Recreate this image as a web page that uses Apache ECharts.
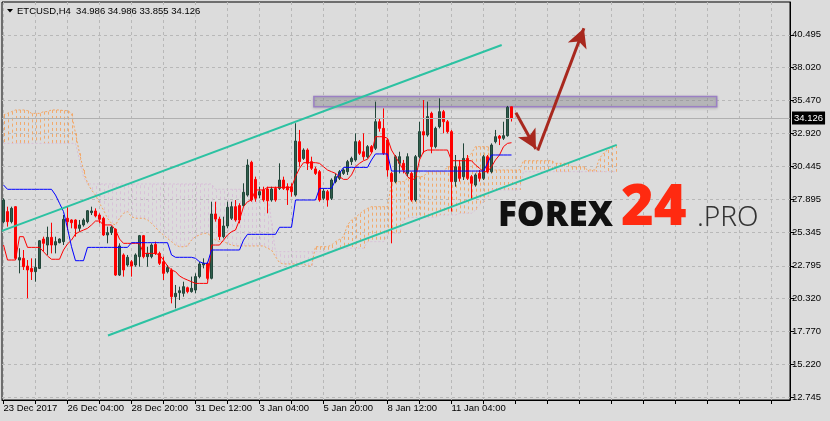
<!DOCTYPE html>
<html><head><meta charset="utf-8">
<script src="https://cdn.jsdelivr.net/npm/echarts@6/dist/echarts.min.js"></script>
<style>html,body{margin:0;padding:0;background:#DCDCDC;}#c{width:830px;height:421px;}</style>
</head><body><div id="c"></div>
<script>
// ---------- DATA ----------
const symbolName = 'ETCUSD,H4';
// H4 candles, bar index 0..127
const opens = [
26.18,26.95,26.18,27.33,23.24,23.37,22.78,22.60,22.35,22.60,
24.85,24.39,24.98,24.39,24.57,24.65,26.44,26.31,26.31,25.67,
25.93,26.18,26.87,27.00,26.69,26.44,25.16,25.34,25.60,22.09,
23.63,22.86,23.11,22.86,23.50,25.11,23.50,23.50,24.44,23.75,
23.11,22.35,22.48,20.43,20.74,20.69,21.12,20.82,20.94,21.97,
22.86,22.99,21.84,26.77,26.38,25.03,25.85,26.44,27.33,27.41,
27.41,28.22,30.73,29.42,28.22,28.61,28.68,27.84,28.73,28.73,
29.37,28.86,28.86,28.22,32.31,31.03,31.67,30.78,30.22,30.01,
27.97,28.48,27.97,29.25,29.50,29.88,30.01,30.78,30.91,32.31,
31.54,31.16,31.93,31.80,33.84,33.33,32.44,29.88,29.25,30.65,
30.65,29.88,29.88,27.84,31.16,33.08,32.82,34.48,31.93,33.46,
34.61,33.84,33.08,29.25,30.39,29.63,31.03,29.63,28.99,29.88,
29.50,31.16,30.01,32.31,32.74,32.57,32.77,34.986];
const closes = [
27.84,26.18,27.20,23.37,23.42,22.73,22.48,22.35,22.68,24.72,
24.52,24.98,24.39,24.65,24.85,26.36,26.18,26.10,25.67,25.93,
26.31,27.02,27.00,26.62,26.36,25.16,25.34,25.75,22.09,24.32,
22.48,23.45,22.78,23.63,25.11,23.50,23.75,24.39,23.75,22.99,
22.22,22.66,20.43,20.69,20.89,21.20,20.82,21.07,21.97,22.94,
22.99,21.84,26.77,26.38,25.03,25.85,27.28,27.33,26.31,26.31,
28.43,30.52,27.84,27.97,28.48,27.84,27.79,28.68,27.84,29.37,
28.73,28.61,28.48,32.36,30.78,31.67,30.65,30.27,29.88,27.84,
28.53,27.84,29.37,29.63,30.01,30.14,30.78,31.03,32.31,31.42,
31.16,31.93,31.54,33.84,33.33,31.42,30.14,29.25,31.16,31.16,
30.14,31.16,27.84,31.16,33.08,32.82,34.23,31.93,33.33,34.61,
33.84,33.08,29.25,30.39,29.50,31.03,29.50,29.12,29.76,29.50,
31.16,30.01,32.05,32.69,32.57,32.77,34.95,34.126];
const lows = [
26.05,25.80,26.05,23.24,22.22,22.48,20.31,21.71,21.58,22.55,
23.88,23.63,23.75,23.75,24.52,24.39,25.54,25.67,25.03,25.41,
25.80,26.05,26.69,26.51,26.05,25.08,24.52,25.16,22.02,22.02,
21.97,22.73,21.97,22.73,22.73,23.37,22.73,23.37,23.63,22.86,
21.71,22.22,19.92,19.54,20.18,20.43,20.69,20.74,20.69,21.84,
22.60,21.71,21.76,26.18,24.77,24.90,25.67,26.31,26.18,26.05,
27.33,28.10,27.71,27.71,27.97,27.71,26.82,27.71,27.71,28.61,
28.61,27.46,28.10,28.10,30.39,30.91,30.14,30.14,29.76,27.71,
27.84,27.33,27.84,29.12,29.37,29.76,29.76,30.52,30.78,31.29,
30.91,31.03,31.42,31.67,33.08,31.29,29.63,24.52,29.12,29.88,
29.88,29.63,27.71,27.71,31.03,31.42,32.69,31.42,31.80,33.33,
32.95,32.95,26.95,28.86,29.25,29.37,29.37,27.84,28.86,29.25,
29.37,29.88,29.88,32.18,32.05,32.44,32.69,33.855];
const highs = [
27.97,27.33,27.33,27.38,24.14,24.01,23.24,23.37,23.37,24.77,
25.03,25.80,26.10,25.03,24.90,26.69,27.33,26.36,26.36,26.31,
26.44,27.07,27.33,27.20,26.82,26.56,25.80,25.85,25.67,24.52,
23.75,23.63,23.24,23.75,25.16,25.16,24.26,24.52,24.65,23.88,
23.50,22.86,22.60,21.33,21.20,21.58,21.20,21.97,22.22,23.11,
23.37,23.11,27.71,27.71,26.56,26.56,27.71,27.71,27.84,27.59,
29.12,30.96,30.85,29.63,28.86,28.86,28.86,28.86,28.86,30.65,
29.63,29.12,29.12,33.72,33.21,31.80,31.80,31.16,30.39,30.14,
28.73,28.61,29.50,29.88,30.14,30.27,30.91,31.16,32.95,32.44,
32.95,32.05,32.05,35.38,34.10,34.86,32.57,30.01,31.29,31.54,
30.91,31.42,30.01,31.29,33.84,35.50,35.38,34.61,33.46,35.63,
34.74,33.97,33.21,31.29,30.91,32.18,31.29,29.76,29.88,30.14,
31.29,31.29,32.18,33.21,32.82,33.84,35.05,34.986];
// Ichimoku lines as drawn on the chart
const tenkan = [
24.39,23.24,23.24,23.24,25.03,25.03,24.21,24.21,24.21,24.21,
23.88,23.55,23.30,23.30,23.30,24.01,24.47,24.77,25.24,25.41,
25.54,25.67,25.93,26.23,26.23,25.93,25.93,25.93,25.54,24.85,
24.52,24.52,24.52,24.52,24.52,23.75,23.75,23.75,23.75,23.63,
23.24,22.78,22.48,22.35,22.02,21.84,21.71,21.58,21.45,21.45,
21.45,21.45,24.39,24.39,24.39,24.77,25.16,25.41,25.54,26.31,
27.33,27.71,27.84,28.61,28.61,28.61,28.81,28.81,28.81,28.81,
28.81,28.81,28.81,29.63,30.27,30.70,30.70,30.70,30.70,30.65,
30.39,30.14,30.01,29.88,29.63,29.42,29.42,29.76,30.39,30.65,
30.85,30.96,31.42,32.69,32.69,32.69,32.57,31.67,31.16,30.65,
30.14,29.63,29.37,29.50,30.91,31.54,31.67,31.67,31.67,31.67,
31.67,31.67,30.85,30.85,30.85,30.85,30.85,30.85,30.52,30.27,
30.01,30.01,30.39,30.91,31.29,31.93,32.18,32.23];
const kijun = [
28.99,28.66,28.66,28.66,28.66,28.66,28.66,28.66,28.66,28.66,
28.66,28.66,28.66,28.22,27.59,26.95,25.67,24.26,23.19,23.19,
23.19,24.21,24.21,24.21,24.21,24.21,24.21,24.21,24.21,24.21,
24.21,24.21,24.57,24.57,24.57,24.57,24.57,24.57,24.57,24.57,
24.57,24.57,23.63,23.45,23.45,23.45,23.45,23.45,23.37,23.11,
22.99,22.99,24.01,24.01,24.01,24.01,24.01,24.01,24.01,24.01,
24.77,25.21,25.21,25.21,25.21,25.21,25.21,25.21,25.21,25.75,
25.75,25.75,25.75,27.84,27.84,27.84,27.84,27.84,27.84,28.73,
28.73,28.73,28.73,29.37,29.88,30.34,30.34,30.34,30.34,30.34,
30.34,30.34,30.91,31.37,31.37,31.37,31.37,30.06,30.06,30.06,
30.06,30.06,30.06,30.06,30.06,30.06,30.06,30.06,30.06,30.06,
30.06,30.06,30.06,30.06,30.06,30.06,30.06,30.06,30.06,30.06,
30.06,30.65,31.29,31.29,31.29,31.29,31.29,31.29];
const senkouA = [
34.35,34.48,34.61,34.74,34.74,34.74,34.69,34.48,34.48,34.48,
34.61,34.61,34.74,34.74,34.74,34.69,34.69,34.48,32.95,31.42,
30.14,29.12,28.61,28.22,27.59,27.07,26.44,26.05,25.93,26.44,
26.82,26.95,26.56,26.44,26.44,26.44,26.31,26.05,25.75,25.41,
25.16,24.90,24.65,24.39,24.26,24.26,24.32,24.77,25.03,25.16,
25.29,25.29,25.03,24.77,24.65,24.65,24.52,24.39,24.32,24.32,
24.32,24.32,24.32,24.32,24.32,24.32,24.14,24.01,23.50,23.04,
22.94,22.94,22.94,22.94,22.94,22.94,22.78,22.78,24.26,24.26,
24.26,24.26,24.39,24.65,24.83,25.03,25.93,26.31,26.51,26.77,
27.02,27.20,27.33,27.33,27.33,27.33,27.33,29.12,29.25,29.25,
29.25,29.50,29.63,29.63,29.63,29.63,30.01,30.01,30.01,30.01,
30.01,30.39,30.39,30.39,30.65,30.65,31.03,31.42,31.93,31.93,
31.93,31.93,30.14,30.14,30.14,30.14,30.14,30.14,30.14,30.14,
30.85,30.85,30.85,30.85,30.85,30.85,30.85,30.85,30.65,30.65,
30.65,30.65,30.39,30.39,30.39,30.39,30.14,30.14,30.14,31.03,
31.42,31.67,31.93,32.05];
const senkouB = [
32.18,32.18,32.18,32.18,32.18,32.18,32.18,32.18,32.18,32.18,
32.18,32.18,32.18,32.18,32.18,32.18,32.18,32.18,32.18,30.91,
29.63,29.07,29.07,29.07,29.07,29.07,29.07,29.07,29.07,29.07,
29.07,29.07,29.07,29.07,29.07,29.07,29.07,29.07,29.07,29.07,
29.07,29.07,29.07,29.07,29.07,29.07,29.07,29.07,29.07,29.07,
29.07,29.07,29.07,28.66,28.66,28.66,28.66,28.66,28.66,28.66,
28.66,28.66,28.66,28.66,28.66,28.66,28.66,26.05,23.88,23.88,
23.88,23.88,23.88,23.88,23.88,23.88,23.88,23.88,23.88,23.88,
23.88,23.88,23.88,24.14,24.14,24.14,24.14,24.14,24.14,24.14,
24.14,24.65,24.65,24.65,24.65,24.65,25.16,25.29,25.29,25.29,
26.31,26.51,26.51,26.51,26.51,26.51,26.51,26.51,26.51,26.69,
26.69,26.69,26.69,26.69,26.82,26.82,26.82,26.82,27.07,27.46,
27.71,28.10,28.61,28.61,28.61,28.61,28.61,28.61,28.61,28.61,
30.01,30.01,30.01,30.01,30.01,30.01,30.01,30.01,30.01,30.01,
30.01,30.01,30.01,30.01,30.01,30.01,30.01,30.01,30.01,30.01,
30.01,30.01,30.01,30.01];
// axis ticks / labels
const timeLabels = ['23 Dec 2017','26 Dec 04:00','28 Dec 20:00','31 Dec 12:00','3 Jan 04:00','5 Jan 20:00','8 Jan 12:00','11 Jan 04:00'];
const timeLabelBars = [0,16,32,48,64,80,96,112];
const gridBars = [0,8,16,24,32,40,48,56,64,72,80,88,96,104,112,120,128,136,144,152,160,168,176,184,192];
const priceTicks = [12.745,15.220,17.770,20.320,22.795,25.345,27.895,30.445,32.920,35.470,38.020,40.495];
// drawn annotations (bar index, price)
const upperChannel = [[-0.375,25.47],[124.55,39.72]];
const lowerChannel = [[26.125,17.46],[153.3,32.06]];
const arrowDown = [[128.1,34.53],[133.1,31.75]];
const arrowUp = [[133.55,31.63],[145.1,41.0]];
const resistanceZone = [[77.6,35.77],[178.3,34.99]];

// ---------- CHART ----------
const FONT = '"Liberation Sans", Arial, sans-serif';
const last = opens.length - 1;
const lastClose = closes[last];
const titleText = symbolName + '  ' + [opens[last], highs[last], lows[last], closes[last]].map(v => v.toFixed(3)).join(' ');
const candleData = opens.map((o, i) => [i, o, closes[i], lows[i], highs[i]]);
const cloudData = senkouA.map((a, i) => [i, a, senkouB[i]]);

const chart = echarts.init(document.getElementById('c'), null, {renderer: 'canvas'});
chart.setOption({
  backgroundColor: '#DCDCDC',
  animation: false,
  grid: {left: 2, right: 40, top: 2, bottom: 21, show: true, borderColor: '#000', borderWidth: 1, backgroundColor: 'transparent'},
  xAxis: {
    type: 'value', min: -0.375, max: 196.625, position: 'bottom',
    axisLine: {show: true, onZero: false, lineStyle: {color: '#000', width: 1}},
    axisTick: {show: true, customValues: gridBars, length: 4, lineStyle: {color: '#000'}},
    axisLabel: {customValues: timeLabelBars, formatter: v => timeLabels[timeLabelBars.indexOf(v)],
      align: 'left', margin: 3, fontSize: 9.5, fontFamily: FONT, color: '#000'},
    splitLine: {show: true, lineStyle: {color: '#B8B8B8', type: [3, 3], width: 1}}
  },
  yAxis: {
    type: 'value', min: 12.515, max: 43.013, position: 'right', scale: true,
    axisLine: {show: true, onZero: false, lineStyle: {color: '#000', width: 1}},
    axisTick: {show: true, customValues: priceTicks, length: 4, lineStyle: {color: '#000'}},
    axisLabel: {customValues: priceTicks, formatter: v => v.toFixed(3), margin: 2, fontSize: 9.5, fontFamily: FONT, color: '#000'},
    splitLine: {show: true, lineStyle: {color: '#B8B8B8', type: [3, 3], width: 1}}
  },
  series: [
    {
      type: 'custom', name: 'cloud', z: 1, silent: true,
      data: cloudData, encode: {x: 0, y: [1, 2]},
      renderItem: function (params, api) {
        const i = api.value(0), a = api.value(1), b = api.value(2);
        const p1 = api.coord([i, a]), p2 = api.coord([i, b]);
        const x = Math.round(p1[0]) + 0.5;
        return {type: 'line', shape: {x1: x, y1: p1[1], x2: x, y2: p2[1]},
          style: {stroke: a >= b ? '#F4A460' : '#D8BFD8', lineWidth: 1, lineDash: [3, 3], opacity: 0.9}};
      }
    },
    {type: 'line', name: 'senkouA', z: 1, silent: true, symbol: 'none', data: senkouA.map((v, i) => [i, v]),
      lineStyle: {color: '#F4A460', width: 1, type: [2, 2]}},
    {type: 'line', name: 'senkouB', z: 1, silent: true, symbol: 'none', data: senkouB.map((v, i) => [i, v]),
      lineStyle: {color: '#D8BFD8', width: 1, type: [2, 2]}},
    {
      type: 'candlestick', name: symbolName, z: 3, silent: true, barWidth: 2,
      dimensions: ['bar', 'open', 'close', 'lowest', 'highest'],
      encode: {x: 'bar', y: ['open', 'close', 'lowest', 'highest']},
      data: candleData,
      itemStyle: {color: '#2F5E4C', color0: '#FF0000', borderColor: '#22463A', borderColor0: '#FF0000', borderWidth: 1},
      markLine: {
        silent: true, symbol: 'none', animation: false,
        lineStyle: {color: '#B0B0B0', type: 'solid', width: 1},
        label: {show: true, position: 'end', distance: 2, formatter: () => lastClose.toFixed(3),
          backgroundColor: '#000', color: '#fff', padding: [2, 2, 1, 2], fontSize: 9.5, fontFamily: FONT},
        data: [{yAxis: lastClose}]
      }
    },
    {type: 'line', name: 'tenkan', z: 4, silent: true, symbol: 'none', data: tenkan.map((v, i) => [i, v]),
      lineStyle: {color: '#FF0000', width: 1}},
    {type: 'line', name: 'kijun', z: 4, silent: true, symbol: 'none', data: kijun.map((v, i) => [i, v]),
      lineStyle: {color: '#0000FF', width: 1}},
    {type: 'line', name: 'upper', z: 5, silent: true, symbol: 'none', data: upperChannel,
      lineStyle: {color: '#2CC2A2', width: 2}},
    {type: 'line', name: 'lower', z: 5, silent: true, symbol: 'none', data: lowerChannel,
      lineStyle: {color: '#2CC2A2', width: 2},
      markArea: {
        silent: true,
        itemStyle: {color: 'rgba(145,145,152,0.38)', borderColor: '#9B80C4', borderWidth: 1.5,
          shadowBlur: 3, shadowColor: 'rgba(0,0,0,0.2)', shadowOffsetY: 1},
        data: [[{coord: resistanceZone[0]}, {coord: resistanceZone[1]}]]
      },
      markLine: {
        silent: true, symbol: ['none', 'arrow'], symbolSize: [15, 19], animation: false,
        lineStyle: {color: '#A8281E', width: 3, type: 'solid'},
        label: {show: false},
        data: [
          [{coord: arrowDown[0]}, {coord: arrowDown[1]}],
          [{coord: arrowUp[0]}, {coord: arrowUp[1]}]
        ]
      }
    }
  ],
  graphic: [
    {type: 'polygon', z: 100, shape: {points: [[7, 9], [13, 9], [10, 12.5]]}, style: {fill: '#000'}},
    {type: 'text', z: 100, x: 17, y: 11, style: {text: titleText, font: '9.5px ' + FONT, fill: '#000', verticalAlign: 'middle'}},
    {type: 'text', z: 100, x: 498, y: 216, style: {text: 'FOREX', font: '900 35px "Noto Sans"', fill: '#111', verticalAlign: 'middle'}},
    {type: 'text', z: 100, x: 621, y: 209, style: {text: '24', font: '900 56px "Noto Sans"', fill: '#FF2A10', verticalAlign: 'middle'}},
    {type: 'text', z: 100, x: 697, y: 218, style: {text: '.PRO', font: '300 28px "Noto Sans"', fill: '#333', verticalAlign: 'middle'}}
  ]
});
</script></body></html>
